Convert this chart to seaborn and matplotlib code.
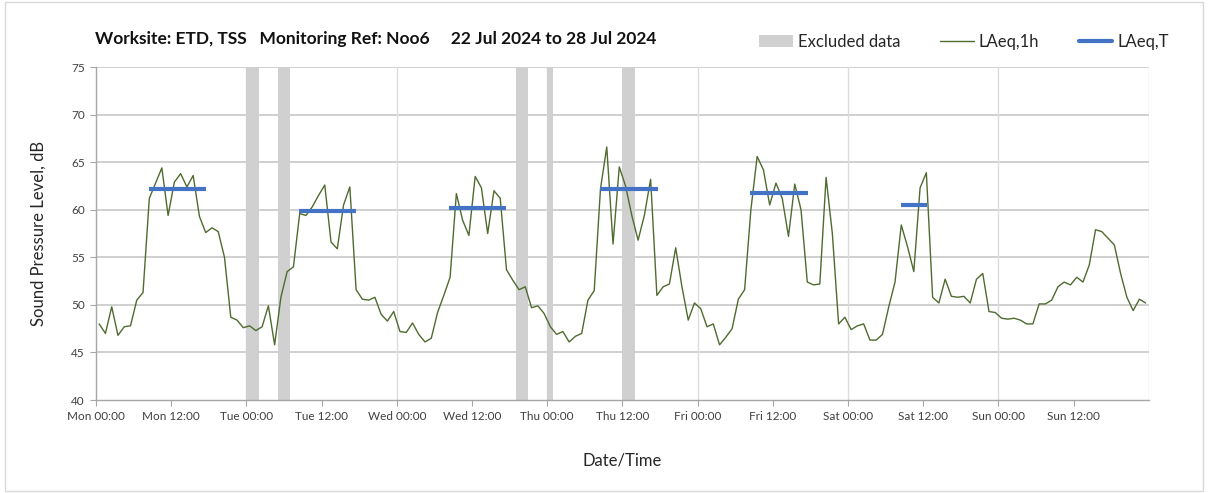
import numpy as np
import pandas as pd
import matplotlib
matplotlib.use("Agg")
import matplotlib.pyplot as plt
import seaborn as sns
from matplotlib.patches import Patch
from matplotlib.lines import Line2D

# hourly LAeq,1h values, Mon 00:00 .. Sun 23:00 (168 hours)
laeq_1h = [
    48.0, 47.0, 49.8, 46.8, 47.7, 47.8, 50.5, 51.3, 61.2, 62.8, 64.4, 59.4,
    62.9, 63.8, 62.4, 63.6, 59.3, 57.6, 58.1, 57.7, 55.0, 48.7, 48.4, 47.6,
    47.8, 47.3, 47.7, 49.9, 45.8, 50.8, 53.5, 54.0, 59.6, 59.4, 60.3, 61.5,
    62.6, 56.6, 55.9, 60.5, 62.4, 51.6, 50.6, 50.5, 50.8, 49.0, 48.3, 49.3,
    47.2, 47.1, 48.1, 46.9, 46.1, 46.5, 49.2, 51.0, 52.9, 61.7, 58.9, 57.3,
    63.5, 62.3, 57.5, 62.0, 61.2, 53.7, 52.6, 51.6, 51.9, 49.7, 49.9, 49.1,
    47.7, 46.9, 47.2, 46.1, 46.7, 47.0, 50.5, 51.5, 62.2, 66.6, 56.4, 64.5,
    62.5, 59.4, 56.8, 59.4, 63.2, 51.0, 51.9, 52.2, 56.0, 51.9, 48.4, 50.2,
    49.6, 47.7, 48.0, 45.8, 46.6, 47.5, 50.6, 51.6, 60.0, 65.6, 64.2, 60.5,
    62.8, 61.2, 57.2, 62.7, 60.0, 52.4, 52.1, 52.2, 63.4, 57.5, 48.0, 48.7,
    47.4, 47.8, 48.0, 46.3, 46.3, 46.9, 49.8, 52.4, 58.4, 56.1, 53.5, 62.3,
    63.9, 50.8, 50.2, 52.7, 50.9, 50.8, 50.9, 50.2, 52.7, 53.3, 49.3, 49.2,
    48.6, 48.5, 48.6, 48.4, 48.0, 48.0, 50.1, 50.1, 50.5, 51.9, 52.4, 52.1,
    52.9, 52.4, 54.2, 57.9, 57.7, 57.0, 56.3, 53.3, 50.8, 49.4, 50.6, 50.2,
]

# LAeq,T daytime periods (hours from Mon 00:00) and levels
laeq_t_start = [8.4, 32.4, 56.4, 80.4, 104.4, 128.4]
laeq_t_end = [17.5, 41.5, 65.5, 89.6, 113.6, 132.6]
laeq_t_value = [62.2, 59.9, 60.2, 62.2, 61.8, 60.5]

# excluded data periods (hours from Mon 00:00)
excl_start = [24, 29, 67, 72, 84]
excl_end = [26, 31, 69, 73, 86]

days = ["Mon", "Tue", "Wed", "Thu", "Fri", "Sat", "Sun"]
tick_labels = [f"{d} {t}" for d in days for t in ("00:00", "12:00")]

df = pd.DataFrame({"hour": np.arange(len(laeq_1h)) + 0.5, "LAeq": laeq_1h})

sns.set_style("white")
plt.rcParams["font.family"] = ["Lato", "DejaVu Sans"]

fig = plt.figure(figsize=(12.08, 4.93), dpi=100)
ax = fig.add_axes([0.0795, 0.1886, 0.8715, 0.6754])

grey_band = "#d0d0d0"
green = "#4f6b2f"
blue = "#4472c4"

for s, e in zip(excl_start, excl_end):
    ax.axvspan(s, e, color=grey_band, lw=0, zorder=1)

sns.lineplot(data=df, x="hour", y="LAeq", color=green, lw=1.0, ax=ax, zorder=3)

for s, e, v in zip(laeq_t_start, laeq_t_end, laeq_t_value):
    ax.plot([s, e], [v, v], color=blue, lw=3, solid_capstyle="butt", zorder=4)

ax.set_xlim(0, 168)
ax.set_ylim(40, 75)
ax.set_xticks(np.arange(0, 168, 12))
ax.set_xticklabels(tick_labels)
ax.set_yticks(np.arange(40, 76, 5))

# grid: horizontal every 5 dB, vertical at each midnight
for y in np.arange(45, 76, 5):
    ax.axhline(y, color="#c8c8c8", lw=1.2, zorder=0)
for x in np.arange(24, 169, 24):
    ax.axvline(x, color="#dcdcdc", lw=1.0, zorder=0)

for side in ["top", "right"]:
    ax.spines[side].set_visible(False)
for side in ["left", "bottom"]:
    ax.spines[side].set_color("#a6a6a6")
    ax.spines[side].set_linewidth(1.0)

ax.tick_params(axis="both", which="major", direction="out", length=4,
               color="#a6a6a6", labelcolor="#404040", labelsize=8.5, pad=4)
ax.tick_params(axis="x", bottom=True)
ax.tick_params(axis="y", left=True)

ax.set_xlabel("Date/Time", fontsize=12, color="#262626", labelpad=22)
ax.set_ylabel("Sound Pressure Level, dB", fontsize=12, color="#262626", labelpad=18)

fig.text(0.0786, 0.921, "Worksite: ETD, TSS   Monitoring Ref: Noo6     22 Jul 2024 to 28 Jul 2024",
         fontsize=12.5, fontweight="bold", color="#111111", va="center", ha="left")

handles = [
    Patch(facecolor=grey_band, edgecolor="none"),
    Line2D([0], [0], color=green, lw=1.0),
    Line2D([0], [0], color=blue, lw=3),
]
fig.legend(handles, ["Excluded data", "LAeq,1h", "LAeq,T"], loc="center right",
           bbox_to_anchor=(0.98, 0.915), ncol=3, frameon=False, fontsize=12,
           handlelength=2.0, handletextpad=0.3, columnspacing=2.4,
           labelcolor="#262626")

# outer chart border
fig.patches.append(plt.Rectangle((0.004, 0.004), 0.992, 0.992, transform=fig.transFigure,
                                 fill=False, edgecolor="#d9d9d9", lw=1.0))

fig.savefig("out.png", dpi=100)
